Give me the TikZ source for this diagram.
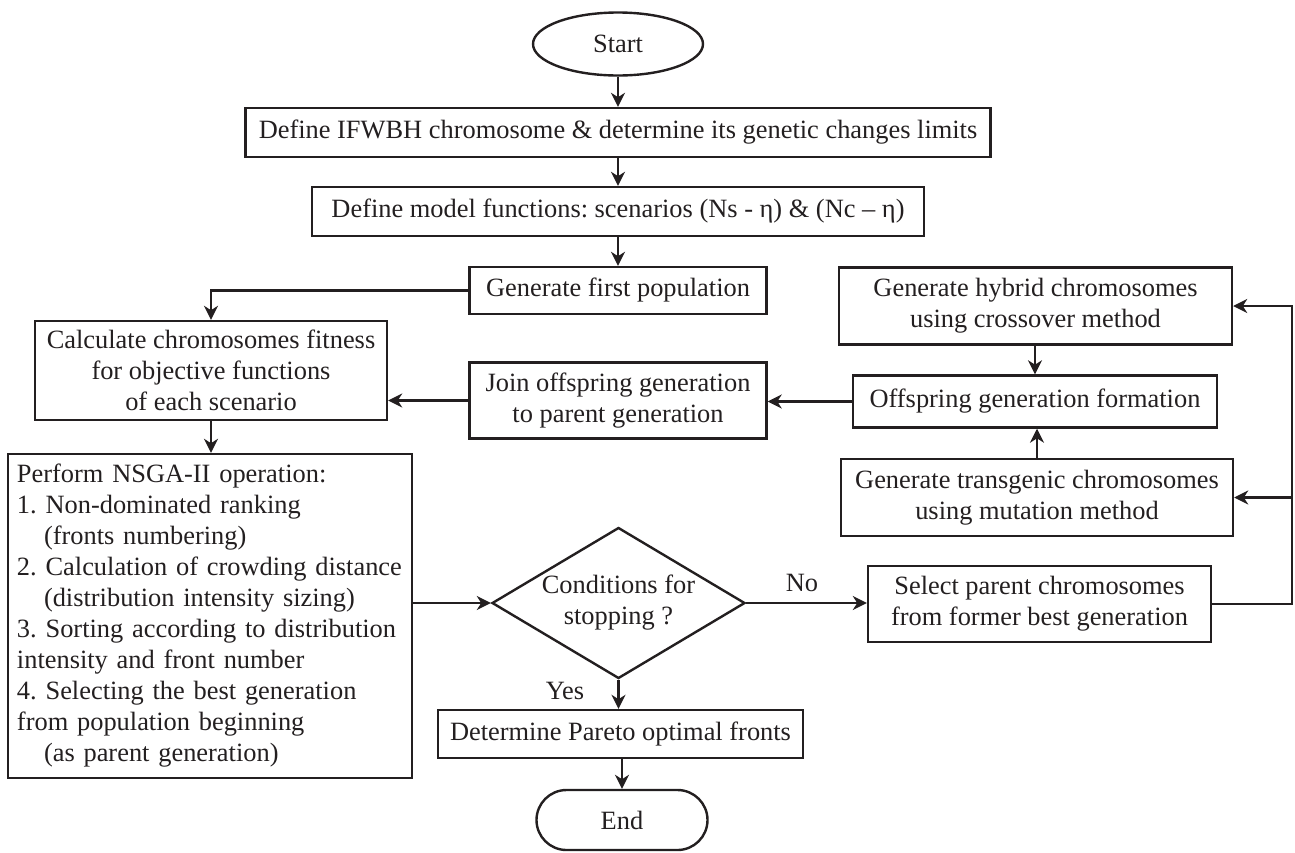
\documentclass[tikz,border=0pt]{standalone}
\usepackage{fontspec}
\setmainfont{Liberation Serif}
\usetikzlibrary{shapes.geometric,arrows.meta}
\newcommand{\myfs}{\fontsize{13.2}{15.5}\selectfont\frenchspacing}
\definecolor{ink}{RGB}{35,31,32}
\begin{document}
\begin{tikzpicture}[x=0.5pt,y=-0.5pt,
  every node/.style={font=\myfs, text=ink},
  box/.style={draw=ink, line width=1.2pt, inner sep=0pt, align=center},
  arr/.style={draw=ink, line width=1.2pt, -{Stealth[length=7pt,width=7pt,inset=2.2pt]}},
  ln/.style={draw=ink, line width=1.2pt}]
\path[use as bounding box] (0,0) rectangle (1295,852);

\node[box, ellipse, minimum width=85pt, minimum height=31.5pt] (start) at (618,44) {Start};
\node[box, minimum width=372.5pt, minimum height=24.5pt] (def1) at (618,132.5) {Define IFWBH chromosome \& determine its genetic changes limits};
\node[box, minimum width=306pt, minimum height=24.5pt] (def2) at (618,211.5) {Define model functions: scenarios (Ns - η) \& (Nc – η)};
\node[box, minimum width=148.5pt, minimum height=23.5pt] (gen1) at (618,290.5) {Generate first population};
\node[box, minimum width=176pt, minimum height=49.5pt] (calc) at (211,370.5) {Calculate chromosomes fitness\\for objective functions\\of each scenario};
\node[box, minimum width=148.5pt, minimum height=38pt] (join) at (618,400.5) {Join offspring generation\\to parent generation};
\node[box, minimum width=196.5pt, minimum height=38.5pt] (hyb) at (1035.5,306) {Generate hybrid chromosomes\\using crossover method};
\node[box, minimum width=182pt, minimum height=26pt] (off) at (1035,401.5) {Offspring generation formation};
\node[box, minimum width=196pt, minimum height=38.5pt] (trans) at (1037,497.5) {Generate transgenic chromosomes\\using mutation method};
\node[box, minimum width=171.5pt, minimum height=38pt] (sel) at (1039.5,604) {Select parent chromosomes\\from former best generation};
\node[box, align=left, text width=193pt, inner xsep=4.5pt, minimum height=162pt] (nsga) at (210,616) {%
\begin{tabular}{@{}l@{}}
Perform NSGA-II operation:\\
1. Non-dominated ranking\\
\hspace*{13.5pt}(fronts numbering)\\
2. Calculation of crowding distance\\
\hspace*{13.5pt}(distribution intensity sizing)\\
3. Sorting according to distribution\\
intensity and front number\\
4. Selecting the best generation\\
from population beginning\\
\hspace*{13.5pt}(as parent generation)
\end{tabular}};
\node[box, diamond, aspect=1.675, minimum width=126.5pt, minimum height=75.5pt] (dia) at (618.5,603) {Conditions for\\stopping ?};
\node[box, minimum width=182.5pt, minimum height=24pt] (det) at (620.5,734) {Determine Pareto optimal fronts};
\node[box, rounded corners=15pt, minimum width=85.5pt, minimum height=30pt] (end) at (622,820) {End};

\node (no) at (802,583) {No};
\node (yes) at (565,691) {Yes};

\coordinate (rt) at (1292,0);

\draw[arr] (start) -- (def1);
\draw[arr] (def1) -- (def2);
\draw[arr] (def2) -- (gen1);
\draw[arr] (gen1.west) -| (calc.north);
\draw[arr] (join.west) -- (join.west -| calc.east);
\draw[arr] (off.west) -- (off.west -| join.east);
\draw[arr] (calc.south) -- (calc.south |- nsga.north);
\draw[arr] (nsga.east |- dia.west) -- (dia.west);
\draw[arr] (dia.east) -- (dia.east -| sel.west);
\draw[arr] (sel.east) -| (rt |- hyb.east) -- (hyb.east);
\draw[arr] (rt |- trans.east) -- (trans.east);
\draw[arr] (hyb.south -| off.north) -- (off.north);
\draw[arr] (trans.north) -- (trans.north |- off.south);
\draw[arr] (dia.south) -- (dia.south |- det.north);
\draw[arr] (det.south -| end.north) -- (end.north);
\end{tikzpicture}
\end{document}
